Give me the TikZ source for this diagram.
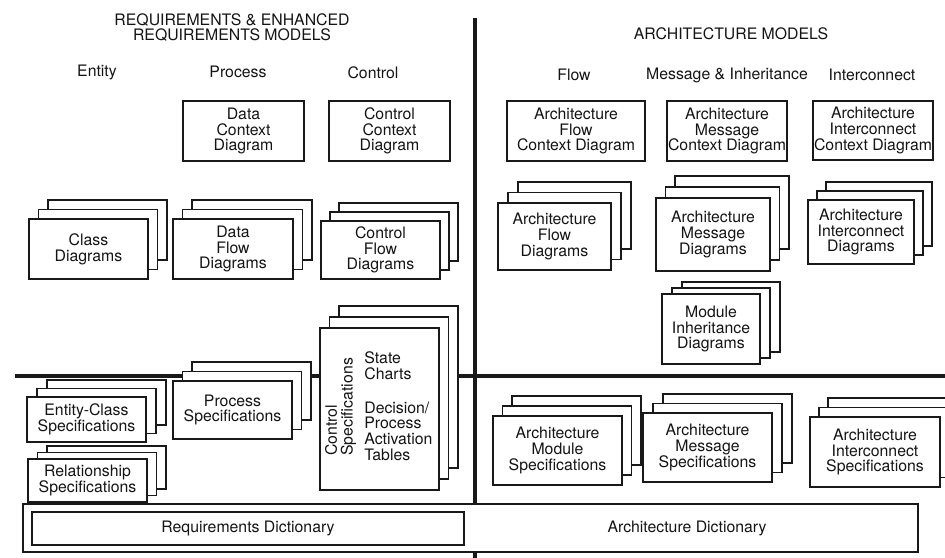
\documentclass[tikz,border=0pt]{standalone}
\usepackage{fontspec}
\setmainfont{TeX Gyre Heros}
\usepackage{xcolor}
\usepackage{tikz}
\definecolor{figline}{RGB}{25,25,25}
\definecolor{figtext}{RGB}{20,20,20}
\tikzset{
  sheet/.style ={draw=figline, fill=white, line width=0.85pt},
  box/.style   ={sheet, text=figtext, font=\fontsize{9}{8.9}\selectfont, align=center, inner sep=0pt},
  txt/.style   ={text=figtext, font=\fontsize{9}{8.9}\selectfont, align=center, inner sep=0pt},
  divl/.style  ={draw=figline, line width=1.8pt},
}
\begin{document}
\begin{tikzpicture}[x=0.2mm,y=-0.2mm]
  \useasboundingbox (0,0) rectangle (945,558);
  \clip (0,0) rectangle (945,558);
  % quadrant lines
  \draw[divl] (475,18) -- (475,558);
  \draw[divl] (15,376) -- (945,376);
  % headings
  \node[txt] (hreq)  at (232,27.5) {REQUIREMENTS \& ENHANCED\\REQUIREMENTS MODELS};
  \node[txt] (harch) at (731,34) {ARCHITECTURE MODELS};
  \node[txt] (hent)  at (97,72) {Entity};
  \node[txt] (hproc) at (238,72) {Process};
  \node[txt] (hctl)  at (373,73) {Control};
  \node[txt] (hflow) at (574,75) {Flow};
  \node[txt] (hmsg)  at (727,75) {Message \& Inheritance};
  \node[txt] (hint)  at (872,75) {Interconnect};
  % context diagrams
  \node[box, minimum width=2.42cm, minimum height=1.2cm] (datactx) at (243.5,131) {Data\\Context\\Diagram};
  \node[box, minimum width=2.42cm, minimum height=1.2cm] (ctlctx) at (389.5,131) {Control\\Context\\Diagram};
  \node[box, minimum width=2.76cm, minimum height=1.2cm] (aflowctx) at (576,131) {Architecture\\Flow\\Context Diagram};
  \node[box, minimum width=2.4cm, minimum height=1.2cm] (amsgctx) at (727,131) {Architecture\\Message\\Context Diagram};
  \node[box, minimum width=2.4cm, minimum height=1.18cm] (aintctx) at (873,130.5) {Architecture\\Interconnect\\Context Diagram};
  % requirements stacks
  \draw[sheet] (48,200) rectangle (167,260);
  \draw[sheet] (38.5,209.5) rectangle (157.5,269.5);
  \node[box, minimum width=2.38cm, minimum height=1.2cm] (classdg) at (88.5,249) {Class\\Diagrams};
  \draw[sheet] (192,200) rectangle (312,260);
  \draw[sheet] (182.5,209.5) rectangle (302.5,269.5);
  \node[box, minimum width=2.4cm, minimum height=1.2cm] (dataflow) at (233,249) {Data\\Flow\\Diagrams};
  \draw[sheet] (339,203) rectangle (458,261);
  \draw[sheet] (330,212) rectangle (449,270);
  \node[box, minimum width=2.38cm, minimum height=1.16cm] (ctlflow) at (380.5,250) {Control\\Flow\\Diagrams};
  \draw[sheet] (339,306) rectangle (458,468);
  \draw[sheet] (329.5,317) rectangle (448.5,479);
  \node[box, minimum width=2.38cm, minimum height=3.24cm] (ctlspec) at (379.5,409) {};
  \node[txt, rotate=90, anchor=west, align=left] (ctlspecl) at (340.5,456) {Control\\Specifications};
  \node[txt, anchor=west, align=left] (charts) at (364,366) {State\\Charts};
  \node[txt, anchor=west, align=left] (tables) at (364,431) {Decision/\\Process\\Activation\\Tables};
  \draw[sheet] (47,380) rectangle (166,425);
  \draw[sheet] (37,388.5) rectangle (156,433.5);
  \node[box, minimum width=2.38cm, minimum height=0.9cm] (entspec) at (86.5,419.5) {Entity-Class\\Specifications};
  \draw[sheet] (47,446) rectangle (166,489);
  \draw[sheet] (37.5,452.5) rectangle (156.5,495.5);
  \node[box, minimum width=2.38cm, minimum height=0.86cm] (relspec) at (87.5,480.5) {Relationship\\Specifications};
  \draw[sheet] (192,362) rectangle (311,420);
  \draw[sheet] (182.5,371.5) rectangle (301.5,429.5);
  \node[box, minimum width=2.38cm, minimum height=1.16cm] (procspec) at (232.5,410) {Process\\Specifications};
  % architecture stacks
  \draw[sheet] (518,182) rectangle (631,249);
  \draw[sheet] (508,192.5) rectangle (621,259.5);
  \node[box, minimum width=2.26cm, minimum height=1.34cm] (aflow) at (554.5,236.5) {Architecture\\Flow\\Diagrams};
  \draw[sheet] (675,176) rectangle (789,249);
  \draw[sheet] (665.5,187) rectangle (779.5,260);
  \node[box, minimum width=2.28cm, minimum height=1.46cm] (amsg) at (713,234.5) {Architecture\\Message\\Diagrams};
  \draw[sheet] (826,182) rectangle (932,246);
  \draw[sheet] (817,191) rectangle (923,255);
  \node[box, minimum width=2.12cm, minimum height=1.28cm] (aint) at (861,232) {Architecture\\Interconnect\\Diagrams};
  \draw[sheet] (682,282) rectangle (780,352);
  \draw[sheet] (672,288) rectangle (770,358);
  \node[box, minimum width=1.96cm, minimum height=1.4cm] (modinh) at (711,329) {Module\\Inheritance\\Diagrams};
  \draw[sheet] (512,396) rectangle (641,465);
  \draw[sheet] (502.5,406) rectangle (631.5,475);
  \node[box, minimum width=2.58cm, minimum height=1.38cm] (amodspec) at (557.5,450.5) {Architecture\\Module\\Specifications};
  \draw[sheet] (663,394) rectangle (792,463);
  \draw[sheet] (653,403.5) rectangle (782,472.5);
  \node[box, minimum width=2.58cm, minimum height=1.38cm] (amsgspec) at (707.5,447.5) {Architecture\\Message\\Specifications};
  \draw[sheet] (828,398) rectangle (958,468);
  \draw[sheet] (819,407.5) rectangle (949,477.5);
  \node[box, minimum width=2.6cm, minimum height=1.4cm] (aintspec) at (875,452) {Architecture\\Interconnect\\Specifications};
  % dictionaries
  \node[box, minimum width=17.9cm, minimum height=0.96cm] (dictbox) at (470.5,528) {};
  \node[box, minimum width=8.64cm, minimum height=0.66cm] (reqdict) at (248,528.5) {Requirements Dictionary};
  \node[txt] (archdict) at (687,528) {Architecture Dictionary};
\end{tikzpicture}
\end{document}
